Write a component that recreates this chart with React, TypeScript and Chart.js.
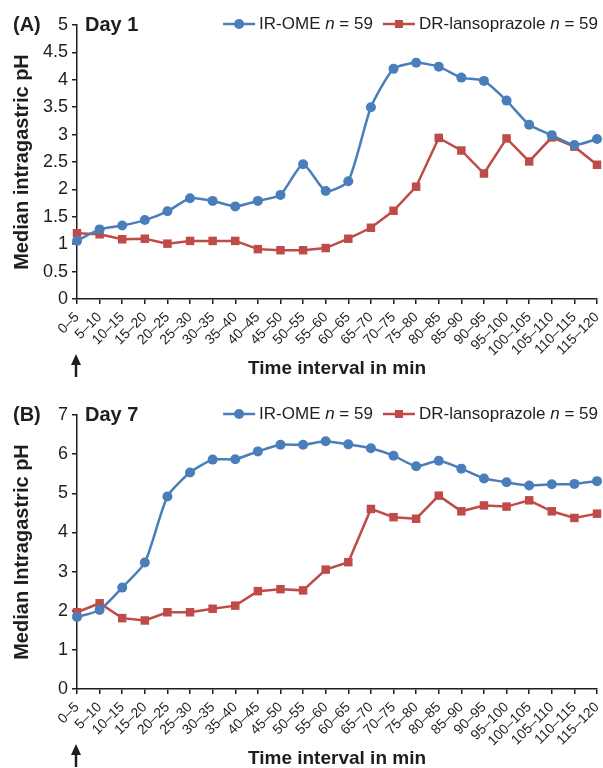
import React, { useEffect, useRef } from 'react';
import { Chart, registerables } from 'chart.js';

Chart.register(...registerables);

const FONT = '"Liberation Sans", Arial, Helvetica, sans-serif';
const INK = '#1e1e1e';
const BLUE = '#4a7ebb';
const RED = '#be4b48';

const intervals = [
  '0–5', '5–10', '10–15', '15–20', '20–25', '25–30', '30–35', '35–40',
  '40–45', '45–50', '50–55', '55–60', '60–65', '65–70', '70–75', '75–80',
  '80–85', '85–90', '90–95', '95–100', '100–105', '105–110', '110–115', '115–120',
];

const seriesNames = ['IR-OME', 'DR-lansoprazole'];
const sampleSizes = [59, 59];

const day1IrOme = [
  1.06, 1.27, 1.34, 1.44, 1.60, 1.84, 1.79, 1.69, 1.79, 1.90, 2.46, 1.97,
  2.15, 3.50, 4.20, 4.31, 4.24, 4.04, 3.98, 3.62, 3.18, 2.99, 2.81, 2.92,
];
const day1DrLanso = [
  1.20, 1.18, 1.09, 1.10, 1.01, 1.06, 1.06, 1.06, 0.91, 0.89, 0.89, 0.93,
  1.10, 1.30, 1.61, 2.05, 2.94, 2.71, 2.29, 2.93, 2.51, 2.95, 2.78, 2.45,
];

const day7IrOme = [
  1.84, 2.02, 2.59, 3.23, 4.92, 5.53, 5.86, 5.87, 6.07, 6.24, 6.24, 6.33,
  6.25, 6.15, 5.96, 5.69, 5.83, 5.63, 5.38, 5.28, 5.20, 5.23, 5.24, 5.31,
];
const day7DrLanso = [
  1.96, 2.19, 1.81, 1.75, 1.96, 1.96, 2.05, 2.13, 2.50, 2.55, 2.52, 3.05,
  3.24, 4.60, 4.39, 4.35, 4.94, 4.54, 4.69, 4.66, 4.82, 4.54, 4.37, 4.48,
];

const day1YMax = 5;
const day1YStep = 0.5;
const day7YMax = 7;
const day7YStep = 1;

const xTitle = 'Time interval in min';

type PanelProps = {
  panelLabel: string;
  dayLabel: string;
  yTitle: string;
  irOme: number[];
  drLanso: number[];
  yMax: number;
  yStep: number;
};

function makeAnnotations(panelLabel: string, dayLabel: string) {
  return {
    id: 'annotations',
    afterDraw(chart: any) {
      const ctx = chart.ctx as CanvasRenderingContext2D;
      const area = chart.chartArea;
      const top = area.top;
      ctx.save();
      ctx.fillStyle = INK;
      ctx.textBaseline = 'middle';
      ctx.textAlign = 'left';
      ctx.font = `bold 20px ${FONT}`;
      ctx.fillText(panelLabel, 13, top);
      ctx.fillText(dayLabel, 85, top);

      // legend
      const fs = 17;
      const lineLen = 32;
      const gapAfterLine = 4;
      const itemGap = 10;
      const normal = `${fs}px ${FONT}`;
      const italic = `italic ${fs}px ${FONT}`;
      const items = chart.data.datasets.map((ds: any, i: number) => {
        ctx.font = normal;
        const a = ds.label + ' ';
        const c = ' = ' + sampleSizes[i];
        const wa = ctx.measureText(a).width;
        const wc = ctx.measureText(c).width;
        ctx.font = italic;
        const wb = ctx.measureText('n').width;
        return { ds, a, c, wa, wb, wc, w: lineLen + gapAfterLine + wa + wb + wc };
      });
      const total = items.reduce((s: number, it: any) => s + it.w, 0) + itemGap * (items.length - 1);
      let x = 598 - total;
      const ly = top - 1;
      items.forEach((it: any) => {
        const ds = it.ds;
        ctx.strokeStyle = ds.borderColor;
        ctx.lineWidth = 2.5;
        ctx.beginPath();
        ctx.moveTo(x, ly);
        ctx.lineTo(x + lineLen, ly);
        ctx.stroke();
        ctx.fillStyle = ds.borderColor;
        const mx = x + lineLen / 2;
        if (ds.pointStyle === 'rect') {
          ctx.fillRect(mx - 4, ly - 4, 8, 8);
        } else {
          ctx.beginPath();
          ctx.arc(mx, ly, 5, 0, Math.PI * 2);
          ctx.fill();
        }
        let tx = x + lineLen + gapAfterLine;
        ctx.fillStyle = INK;
        ctx.font = normal;
        ctx.fillText(it.a, tx, ly);
        tx += it.wa;
        ctx.font = italic;
        ctx.fillText('n', tx, ly);
        tx += it.wb;
        ctx.font = normal;
        ctx.fillText(it.c, tx, ly);
        x += it.w + itemGap;
      });

      // dosing arrow under the first interval
      const ax = chart.scales.x.getPixelForValue(0) - 1;
      const b = area.bottom;
      ctx.strokeStyle = INK;
      ctx.fillStyle = INK;
      ctx.lineWidth = 2.5;
      ctx.beginPath();
      ctx.moveTo(ax, b + 63);
      ctx.lineTo(ax, b + 78);
      ctx.stroke();
      ctx.beginPath();
      ctx.moveTo(ax, b + 55);
      ctx.lineTo(ax - 5, b + 66);
      ctx.lineTo(ax + 5, b + 66);
      ctx.closePath();
      ctx.fill();
      ctx.restore();
    },
  };
}

function Panel({ panelLabel, dayLabel, yTitle, irOme, drLanso, yMax, yStep }: PanelProps) {
  const ref = useRef<HTMLCanvasElement | null>(null);

  useEffect(() => {
    if (!ref.current) return;
    const chart = new Chart(ref.current, {
      type: 'line',
      data: {
        labels: intervals,
        datasets: [
          {
            label: seriesNames[0],
            data: irOme,
            borderColor: BLUE,
            backgroundColor: BLUE,
            borderWidth: 2.5,
            pointStyle: 'circle',
            pointRadius: 5,
            pointBorderWidth: 0,
            pointBackgroundColor: BLUE,
            tension: 0.2,
            clip: false,
          },
          {
            label: seriesNames[1],
            data: drLanso,
            borderColor: RED,
            backgroundColor: RED,
            borderWidth: 2.5,
            pointStyle: 'rect',
            pointRadius: 6,
            pointBorderWidth: 0,
            pointBackgroundColor: RED,
            tension: 0,
            clip: false,
          },
        ],
      },
      options: {
        responsive: false,
        animation: false,
        devicePixelRatio: 1,
        layout: { padding: { top: 25, right: 6, left: 0, bottom: 0 } },
        plugins: {
          legend: { display: false },
          tooltip: { enabled: false },
        },
        scales: {
          x: {
            type: 'category',
            offset: false,
            afterFit: (s: any) => {
              s.height = 91;
              s.paddingLeft = 0;
              s.paddingRight = 0;
            },
            grid: {
              display: true,
              drawOnChartArea: false,
              drawTicks: true,
              tickLength: 5,
              color: INK,
              lineWidth: 1.5,
              offset: false,
            },
            border: { display: true, color: INK, width: 1.5 },
            ticks: {
              autoSkip: false,
              minRotation: 45,
              maxRotation: 45,
              padding: 5,
              color: INK,
              font: { size: 14, family: FONT },
            },
            title: {
              display: true,
              text: xTitle,
              color: INK,
              font: { size: 19, weight: 'bold', family: FONT },
              padding: { top: 0, bottom: 10 },
            },
          },
          y: {
            type: 'linear',
            min: 0,
            max: yMax,
            afterFit: (s: any) => {
              s.width = 77;
            },
            grid: {
              display: true,
              drawOnChartArea: false,
              drawTicks: true,
              tickLength: 5,
              color: INK,
              lineWidth: 1.5,
            },
            border: { display: true, color: INK, width: 1.5 },
            ticks: {
              stepSize: yStep,
              padding: 4,
              color: INK,
              font: { size: 18, family: FONT },
              callback: (v: any) => String(v),
            },
            title: {
              display: true,
              text: yTitle,
              color: INK,
              font: { size: 20, weight: 'bold', family: FONT },
              padding: { top: 10, bottom: 0 },
            },
          },
        },
      } as any,
      plugins: [makeAnnotations(panelLabel, dayLabel)],
    });
    return () => chart.destroy();
  }, [panelLabel, dayLabel, yTitle, irOme, drLanso, yMax, yStep]);

  return <canvas ref={ref} width={603} height={390} style={{ display: 'block', width: 603, height: 390 }} />;
}

export default function App() {
  return (
    <div
      style={{
        position: 'absolute',
        left: 0,
        top: 0,
        width: 603,
        height: 768,
        overflow: 'hidden',
        background: '#fff',
      }}
    >
      <Panel
        panelLabel="(A)"
        dayLabel="Day 1"
        yTitle="Median intragastric pH"
        irOme={day1IrOme}
        drLanso={day1DrLanso}
        yMax={day1YMax}
        yStep={day1YStep}
      />
      <Panel
        panelLabel="(B)"
        dayLabel="Day 7"
        yTitle="Median Intragastric pH"
        irOme={day7IrOme}
        drLanso={day7DrLanso}
        yMax={day7YMax}
        yStep={day7YStep}
      />
    </div>
  );
}
